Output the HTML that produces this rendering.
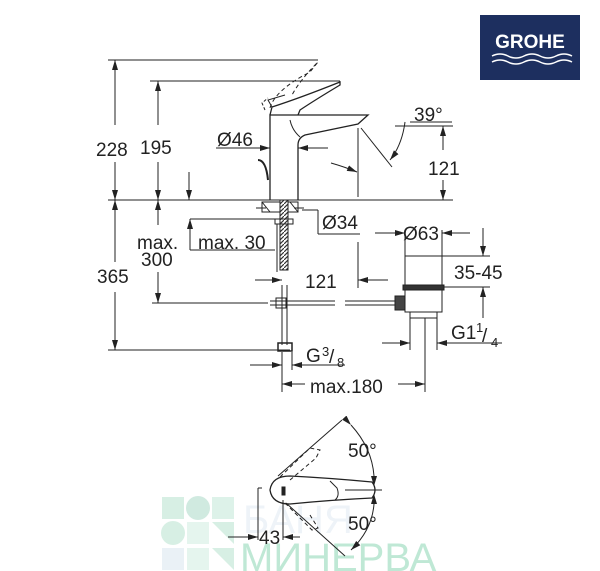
<!DOCTYPE html>
<html><head><meta charset="utf-8"><style>
html,body{margin:0;padding:0;background:#fff;}
svg{display:block}
text{font-family:"Liberation Sans",sans-serif;fill:#222}
</style></head><body>
<svg width="600" height="571" viewBox="0 0 600 571" xmlns="http://www.w3.org/2000/svg">
<defs>
<marker id="a" markerWidth="10" markerHeight="6" refX="10" refY="3" orient="auto" markerUnits="userSpaceOnUse"><path d="M0,0 L10,3 L0,6z" fill="#222"/></marker>
<pattern id="h" width="4" height="4" patternUnits="userSpaceOnUse"><rect width="4" height="4" fill="#fff"/><path d="M0,4 L4,0" stroke="#333" stroke-width="1.2"/></pattern>
</defs>
<!-- watermark -->
<g opacity="0.35">
<rect x="162" y="497" width="22" height="22" fill="#8fd3b3"/>
<circle cx="198" cy="508" r="12" fill="#7cc4a8"/>
<rect x="212" y="497" width="22" height="22" fill="#9fdcc1"/>
<circle cx="173" cy="533" r="12" fill="#8fd3b3"/>
<rect x="187" y="522" width="22" height="22" fill="#b6e4d0"/>
<rect x="162" y="548" width="22" height="22" fill="#c6d8e6"/>
<path d="M212 522 h22 v22 z" fill="#8fd3b3"/>
<rect x="187" y="548" width="22" height="22" fill="#b6e4d0"/>
<path d="M212 548 h22 v22 z" fill="#8fd3b3"/>
</g>
<text x="243" y="533" font-size="40" style="fill:#eef3f8">БАНЯ</text>
<text x="240" y="571" font-size="40" style="fill:#bfe8d5">МИНЕРВА</text>

<!-- logo -->
<rect x="480" y="15" width="100" height="65" fill="#1d2f5f"/>
<text x="530" y="48" font-size="19" font-weight="bold" text-anchor="middle" style="fill:#fff">GROHE</text>
<path d="M492 56 q8 -4 16 0 t16 0 t16 0 t16 0 t16 0" stroke="#fff" stroke-width="1.5" fill="none"/>
<path d="M492 62 q8 -4 16 0 t16 0 t16 0 t16 0 t16 0" stroke="#fff" stroke-width="1.5" fill="none"/>

<g stroke="#222" stroke-width="1" fill="none">
<line x1="108" y1="60" x2="318" y2="60"/>
<line x1="150" y1="81" x2="340" y2="81"/>
<line x1="108" y1="200" x2="453" y2="200"/>
<line x1="115" y1="125" x2="115" y2="60" marker-end="url(#a)"/>
<line x1="115" y1="162" x2="115" y2="200" marker-end="url(#a)"/>
<line x1="158" y1="125" x2="158" y2="81" marker-end="url(#a)"/>
<line x1="158" y1="162" x2="158" y2="200" marker-end="url(#a)"/>
<line x1="189" y1="172" x2="189" y2="200" marker-end="url(#a)"/>
<line x1="216" y1="148" x2="270" y2="148" marker-end="url(#a)"/>
<line x1="328" y1="148" x2="298" y2="148" marker-end="url(#a)"/>
<path d="M270 200 V115 H368 L358 124 L305 135 Q298 138 298 145 V200" stroke-width="1.3"/>
<path d="M290 120 Q292 130 300 137"/>
<path d="M270 115 L272 107 Q300 98 340 82 L340 85 Q315 100 300 110 L298 115" stroke-width="1.3"/>
<path d="M272 107 L268 100 L285 95" />
<path d="M270 108 Q275 90 310 72 L318 62 Q300 80 292 95" stroke-dasharray="4,3"/>
<path d="M265 110 L262 103 L268 98" stroke-dasharray="3,2"/>
<path d="M258 160 Q266 160 268 180" stroke-width="2"/>
<line x1="358" y1="128" x2="358" y2="197"/>
<line x1="361" y1="128" x2="392" y2="167"/>
<path d="M405 122 Q402 145 390 160" marker-end="url(#a)"/>
<line x1="410" y1="122" x2="452" y2="122"/>
<line x1="395" y1="126" x2="453" y2="126"/>
<line x1="443" y1="150" x2="443" y2="126" marker-end="url(#a)"/>
<line x1="443" y1="180" x2="443" y2="200" marker-end="url(#a)"/>
<path d="M331 163 Q345 167 357 172" marker-end="url(#a)"/>
<line x1="115" y1="262" x2="115" y2="200" marker-end="url(#a)"/>
<line x1="115" y1="292" x2="115" y2="350" marker-end="url(#a)"/>
<line x1="108" y1="350" x2="290" y2="350"/>
<line x1="158" y1="225" x2="158" y2="200" marker-end="url(#a)"/>
<line x1="158" y1="272" x2="158" y2="303" marker-end="url(#a)"/>
<line x1="152" y1="303" x2="268" y2="303"/>
<line x1="190" y1="250" x2="190" y2="219" marker-end="url(#a)"/>
<line x1="190" y1="219" x2="285" y2="219"/>
<line x1="190" y1="250" x2="275" y2="250"/>
<rect x="262" y="202" width="36" height="10"/>
<path d="M262 202 L270 212 M290 202 L298 212 M256 208 L266 208 M294 208 L304 208" />
<rect x="280" y="200" width="8" height="70" fill="url(#h)"/>
<rect x="275" y="219" width="18" height="5"/>
<line x1="277" y1="224" x2="277" y2="272"/>
<line x1="302" y1="210" x2="318" y2="210"/>
<line x1="318" y1="210" x2="318" y2="234"/>
<line x1="318" y1="234" x2="360" y2="234"/>
<line x1="255" y1="280" x2="282" y2="280" marker-end="url(#a)"/>
<line x1="388" y1="280" x2="358" y2="280" marker-end="url(#a)"/>
<line x1="358" y1="242" x2="358" y2="288"/>
<line x1="282" y1="285" x2="282" y2="345"/>
<line x1="287" y1="285" x2="287" y2="345"/>
<rect x="278" y="343" width="14" height="8" stroke-width="1.5"/>
<line x1="270" y1="301" x2="335" y2="301"/><line x1="270" y1="305" x2="335" y2="305"/>
<line x1="345" y1="301" x2="395" y2="301"/><line x1="345" y1="305" x2="395" y2="305"/>
<rect x="276" y="298" width="10" height="10"/>
<rect x="405" y="256" width="37" height="30"/>
<rect x="403" y="285" width="41" height="5" fill="#333"/>
<path d="M405 290 V312 H442 V290"/>
<rect x="410" y="312" width="27" height="6"/>
<rect x="395" y="296" width="10" height="14" fill="#444"/>
<line x1="405" y1="256" x2="405" y2="230"/><line x1="442" y1="256" x2="442" y2="230"/>
<line x1="375" y1="233" x2="405" y2="233" marker-end="url(#a)"/>
<line x1="470" y1="233" x2="442" y2="233" marker-end="url(#a)"/>
<line x1="442" y1="256" x2="490" y2="256"/>
<line x1="444" y1="287" x2="490" y2="287"/>
<line x1="483" y1="228" x2="483" y2="256" marker-end="url(#a)"/>
<line x1="483" y1="318" x2="483" y2="287" marker-end="url(#a)"/>
<line x1="410" y1="318" x2="410" y2="350"/><line x1="437" y1="318" x2="437" y2="350"/>
<line x1="382" y1="343" x2="410" y2="343" marker-end="url(#a)"/>
<line x1="502" y1="343" x2="437" y2="343" marker-end="url(#a)"/>
<line x1="250" y1="365" x2="282" y2="365" marker-end="url(#a)"/>
<line x1="345" y1="365" x2="292" y2="365" marker-end="url(#a)"/>
<line x1="292" y1="352" x2="292" y2="370"/>
<line x1="282" y1="352" x2="282" y2="392"/>
<line x1="425" y1="318" x2="425" y2="392"/>
<line x1="305" y1="384" x2="282" y2="384" marker-end="url(#a)"/>
<line x1="398" y1="384" x2="425" y2="384" marker-end="url(#a)"/>
<path d="M290 476 Q272 476 270 490 Q272 504 290 504 Q330 500 372 498 Q378 490 372 482 Q330 478 290 476z" stroke-width="1.3"/>
<path d="M330 481 L337 488 Q340 496 335 500"/>
<line x1="258" y1="488" x2="262" y2="488"/><line x1="258" y1="488" x2="258" y2="540"/>
<rect x="282" y="487" width="3" height="8" fill="#222"/>
<line x1="345" y1="490" x2="382" y2="490"/>
<path d="M280 477 L310 448 L320 450 L316 458 L290 480" stroke-dasharray="4,3"/>
<path d="M285 503 L312 530 L318 528 L310 515" stroke-dasharray="4,3"/>
<line x1="278" y1="476" x2="342" y2="420"/>
<line x1="286" y1="503" x2="345" y2="556"/>
<path d="M351 425 Q372 448 374 476" marker-start="url(#a)"/>
<path d="M374 504 Q372 530 351 550" marker-end="url(#a)"/>
<line x1="374" y1="478" x2="374" y2="486" marker-end="url(#a)"/>
<line x1="374" y1="502" x2="374" y2="494" marker-end="url(#a)"/>
<line x1="228" y1="537" x2="258" y2="537" marker-end="url(#a)"/>
<line x1="300" y1="537" x2="283" y2="537" marker-end="url(#a)"/>
<line x1="283" y1="500" x2="283" y2="540"/>
</g>
<g font-size="19">
<text x="96" y="156">228</text>
<text x="140" y="154">195</text>
<text x="217" y="146">Ø46</text>
<text x="414" y="121">39°</text>
<text x="428" y="175">121</text>
<text x="137" y="249">max.</text>
<text x="141" y="266">300</text>
<text x="198" y="249">max. 30</text>
<text x="97" y="283">365</text>
<text x="322" y="229">Ø34</text>
<text x="305" y="288">121</text>
<text x="403" y="240">Ø63</text>
<text x="454" y="279">35-45</text>
<text x="451" y="339">G1</text><text x="476" y="332" font-size="13">1</text><text x="482" y="342">/</text><text x="491" y="347" font-size="13">4</text>
<text x="306" y="362">G</text><text x="322" y="356" font-size="13">3</text><text x="329" y="363">/</text><text x="337" y="367" font-size="13">8</text>
<text x="310" y="393">max.180</text>
<text x="348" y="457">50°</text>
<text x="348" y="530">50°</text>
<text x="259" y="544">43</text>
</g>
</svg>
</body></html>
